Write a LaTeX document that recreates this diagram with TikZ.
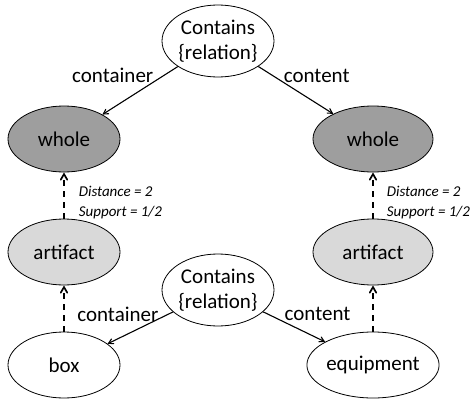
\documentclass[tikz,border=0pt]{standalone}
\usepackage{fontspec}
\setmainfont{Carlito}
\usetikzlibrary{arrows,shapes.geometric}

\begin{document}
\begin{tikzpicture}[x=1pt,y=-1pt,>=angle 60,auto,node distance=113pt,
  font=\fontsize{21}{24}\selectfont]
  \tikzstyle{every node}=[inner sep=0pt]
  \tikzstyle{concept}=[ellipse,draw,thick,minimum width=112pt,minimum height=66pt]
  \tikzstyle{whole}=[concept,fill=black!38]
  \tikzstyle{artifact}=[concept,fill=black!15]
  \tikzstyle{rel}=[concept,align=center,minimum height=72pt,font=\fontsize{21}{25}\selectfont]
  \tikzstyle{role}=[->,line width=1.1pt]
  \tikzstyle{isa}=[->,line width=1.7pt,dash pattern=on 6pt off 5pt]
  \tikzstyle{stats}=[right,align=left,font=\fontsize{15}{20}\selectfont\itshape]

  \useasboundingbox (0,0) rectangle (472,402);

  \node[rel]      (topRel)                  at (218,41)  {Contains\\\{relation\}};
  \node[whole]    (leftWhole)               at (64,139)  {whole};
  \node[artifact] (leftArt)   [below of=leftWhole]       {artifact};
  \node[concept]  (box)       [below of=leftArt]         {box};
  \node[whole,minimum width=120pt]    (rightWhole) at (373,139) {whole};
  \node[artifact,minimum width=120pt] (rightArt)  [below of=rightWhole] {artifact};
  \node[concept,minimum width=120pt]  (equip)     [below of=rightArt]   {equipment};
  \node[rel]      (botRel)                  at (218,290) {Contains\\\{relation\}};

  \path (topRel) edge[role] node[pos=0,anchor=east,xshift=-24pt,yshift=-9pt] {container} (leftWhole)
        (topRel) edge[role] node[pos=0,anchor=west,xshift=25pt,yshift=-9pt]  {content}   (rightWhole)
        (botRel) edge[role] node[pos=0,anchor=east,xshift=-14pt,yshift=-2pt]  {container} (box)
        (botRel) edge[role] node[pos=0,anchor=west,xshift=21pt,yshift=-2pt]   {content}   (equip)
        (leftArt)  edge[isa] node[stats,xshift=14pt,yshift=-7pt] {Distance = 2\\Support = 1/2} (leftWhole)
        (rightArt) edge[isa] node[stats,xshift=13pt,yshift=-7pt] {Distance = 2\\Support = 1/2} (rightWhole)
        (box)   edge[isa] (leftArt)
        (equip) edge[isa] (rightArt)
        ;
\end{tikzpicture}
\end{document}
